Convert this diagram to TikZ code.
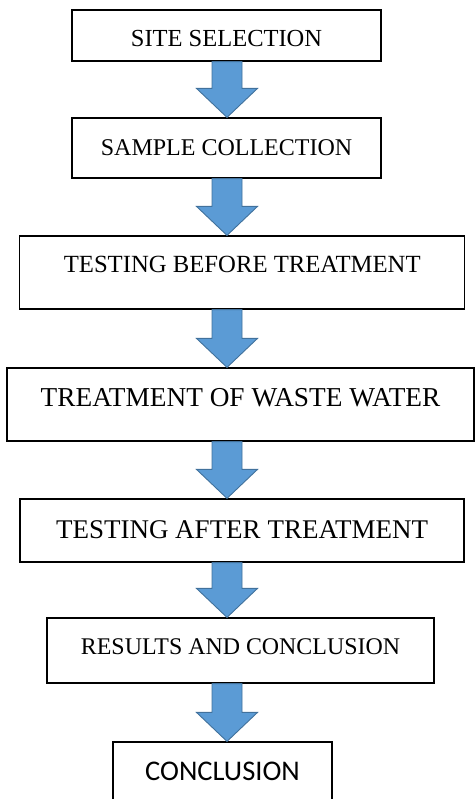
\documentclass[tikz,border=0pt]{standalone}
\usepackage{fontspec}
\setmainfont{Liberation Serif}
\newfontfamily\calibrifont{Carlito}
\usetikzlibrary{calc}
\definecolor{arrowfill}{HTML}{5B9BD5}
\definecolor{arrowline}{HTML}{41719C}

\begin{document}
\begin{tikzpicture}[
    x=1pt, y=1pt,
    box/.style={draw, line width=1.2pt, inner sep=0pt, text depth=0pt},
    flow/.style={fill=arrowfill, draw=arrowline, line width=0.9pt, line join=miter}
]
    \useasboundingbox (0,0) rectangle (474,-799);

    % Boxes
    \node[box, minimum width=309pt, minimum height=51pt, text height=22.4pt,
          font=\fontsize{24.5}{28}\selectfont] (site) at (226.5,-35.5) {SITE SELECTION};
    \node[box, minimum width=309pt, minimum height=60pt, text height=15.4pt,
          font=\fontsize{24}{28}\selectfont] (sample) at (226.5,-148) {SAMPLE COLLECTION};
    \node[box, minimum width=445pt, minimum height=73pt, text height=0pt,
          font=\fontsize{24.7}{28}\selectfont] (before) at (242.2,-272.5) {TESTING BEFORE TREATMENT};
    \node[box, minimum width=467pt, minimum height=73pt, text height=4.4pt,
          font=\fontsize{27.3}{30}\selectfont] (treat) at (240.5,-404.5) {TREATMENT OF WASTE WATER};
    \node[box, minimum width=444pt, minimum height=63pt, text height=15.6pt,
          font=\fontsize{27}{30}\selectfont] (after) at (242,-530.5) {TESTING AFTER TREATMENT};
    \node[box, minimum width=387pt, minimum height=65pt, text height=7pt,
          font=\fontsize{23.9}{28}\selectfont] (results) at (240.5,-650.5) {RESULTS AND CONCLUSION};
    \node[box, minimum width=219pt, minimum height=60pt, text height=16pt,
          font=\calibrifont\fontsize{28.5}{32}\selectfont] (concl) at (222.5,-772) {CONCLUSION};

    % Arrows
    \coordinate (axis) at (227,0);
    \foreach \from/\to in {site/sample, sample/before, before/treat, treat/after, after/results, results/concl}
        \path[flow] let \p1=(\from.south -| axis), \p2=(\to.north -| axis) in
            (\x1-15pt,\y1) -- (\x1+15pt,\y1) -- (\x1+15pt,\y2+29pt) -- (\x1+30.5pt,\y2+29pt)
            -- (\x2,\y2) -- (\x1-30.5pt,\y2+29pt) -- (\x1-15pt,\y2+29pt) -- cycle;
\end{tikzpicture}
\end{document}
